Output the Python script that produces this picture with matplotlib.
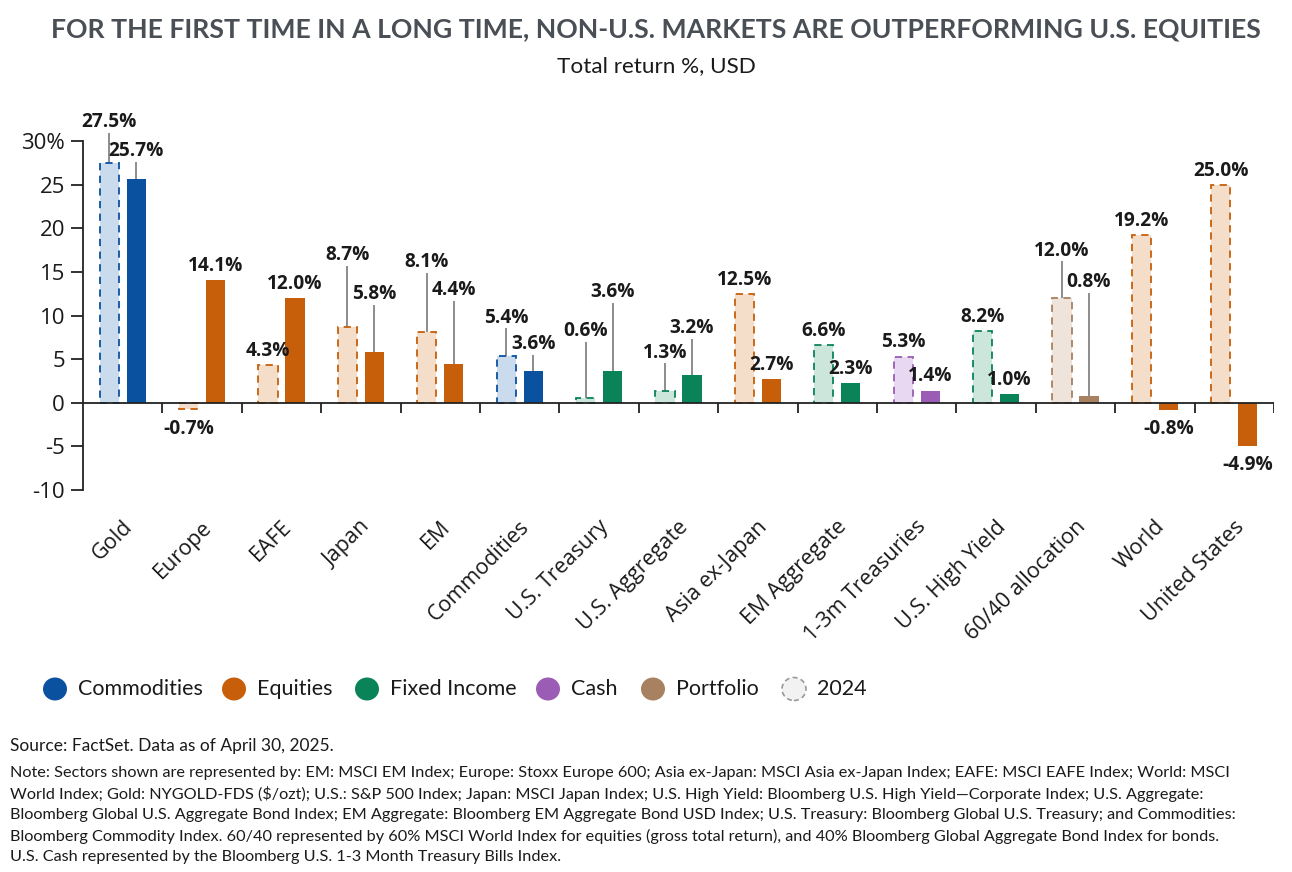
import matplotlib
matplotlib.use("Agg")
import matplotlib.pyplot as plt
from matplotlib import font_manager
from matplotlib.patches import Ellipse
import numpy as np

# data
categories = ["Gold", "Europe", "EAFE", "Japan", "EM", "Commodities", "U.S. Treasury",
              "U.S. Aggregate", "Asia ex-Japan", "EM Aggregate", "1-3m Treasuries",
              "U.S. High Yield", "60/40 allocation", "World", "United States"]
asset_class = ["Commodities", "Equities", "Equities", "Equities", "Equities", "Commodities",
               "Fixed Income", "Fixed Income", "Equities", "Fixed Income", "Cash",
               "Fixed Income", "Portfolio", "Equities", "Equities"]
ret_2024 = [27.5, -0.7, 4.3, 8.7, 8.1, 5.4, 0.6, 1.3, 12.5, 6.6, 5.3, 8.2, 12.0, 19.2, 25.0]
ret_2025 = [25.7, 14.1, 12.0, 5.8, 4.4, 3.6, 3.6, 3.2, 2.7, 2.3, 1.4, 1.0, 0.8, -0.8, -4.9]
legend_names = ["Commodities", "Equities", "Fixed Income", "Cash", "Portfolio", "2024"]
ytick_vals = [-10, -5, 0, 5, 10, 15, 20, 25, 30]
ytick_labels = ["-10", "-5", "0", "5", "10", "15", "20", "25", "30%"]

# label heights for the ones lifted on a leader line (None = label sits on the bar)
lift_2024 = [31.0, None, None, 15.8, 15.0, 8.6, 7.1, 4.6, None, None, None, None, 16.3, None, None]
lift_2025 = [27.7, None, None, 11.3, 11.8, 5.6, 11.5, 7.4, None, None, None, None, 12.7, None, None]

dark = {"Commodities": "#0A52A0", "Equities": "#C75F0A", "Fixed Income": "#0A8358",
        "Cash": "#9A5CB4", "Portfolio": "#A88161"}
light = {"Commodities": "#CBDBEE", "Equities": "#F4DDC9", "Fixed Income": "#CCE6DB",
         "Cash": "#E9D8F2", "Portfolio": "#EEE4DC"}


def pick(names):
    for n in names:
        try:
            font_manager.findfont(n, fallback_to_default=False)
            return n
        except Exception:
            pass
    return "DejaVu Sans"


narrow = pick(["Lato", "Roboto", "Liberation Sans"])
body = pick(["Open Sans", "Noto Sans", "DejaVu Sans"])
plt.rcParams["font.family"] = [body, "DejaVu Sans"]

W, H = 1292, 872
fig = plt.figure(figsize=(W / 100, H / 100), dpi=100)
renderer = fig.canvas.get_renderer()


def fit_width(t, target):
    # shrink/grow a text so its width matches the reference
    w = t.get_window_extent(renderer).width
    t.set_fontsize(t.get_fontsize() * target / w)


ax = fig.add_axes([83 / W, (H - 490) / H, (1274 - 83) / W, (490 - 123.6) / H])

x = np.arange(len(categories))
off, bw = 0.17, 0.24

for i in x:
    c = asset_class[i]
    ax.bar(i - off, ret_2024[i], bw, color=light[c], edgecolor=dark[c],
           linestyle=(0, (4, 3)), linewidth=1.3, zorder=2)
    ax.bar(i + off, ret_2025[i], bw, color=dark[c], linewidth=0, zorder=2)

# value labels
for i in x:
    for xx, v, lift in ((i - off, ret_2024[i], lift_2024[i]), (i + off, ret_2025[i], lift_2025[i])):
        txt = f"{v:.1f}%"
        kw = dict(fontsize=13.8, fontweight="bold", color="#1A1A1A", ha="center")
        if lift is not None:
            ax.plot([xx, xx], [v, lift - 0.2], color="#8C8C8C", lw=1.4, zorder=1)
            ax.text(xx, lift, txt, va="bottom", **kw)
        elif v >= 0:
            ax.annotate(txt, (xx, v), xytext=(0, 3), textcoords="offset points", va="bottom", **kw)
        else:
            ax.annotate(txt, (xx, v), xytext=(0, -7), textcoords="offset points", va="top", **kw)

ax.set_xlim(-0.5, len(categories) - 0.5)
ax.set_ylim(-10, 32)

# zero line with group separators
ax.axhline(0, color="#222222", lw=1.3, zorder=3)
ax.vlines(np.arange(0.5, len(categories), 1), -1.15, 0, color="#222222", lw=1.3, zorder=3)

for s in ["top", "right", "bottom"]:
    ax.spines[s].set_visible(False)
ax.spines["left"].set_bounds(-10, 30)
ax.spines["left"].set_color("#222222")
ax.spines["left"].set_linewidth(1.3)

ax.set_yticks(ytick_vals)
ax.set_yticklabels(ytick_labels, fontsize=16, color="#1A1A1A")
ax.tick_params(axis="y", length=9, width=1.3, color="#222222", pad=4)

ax.set_xticks(x - 0.01)
ax.set_xticklabels(categories, rotation=45, ha="right", va="top", rotation_mode="anchor",
                   fontsize=15.5, color="#1A1A1A")
ax.tick_params(axis="x", length=0, pad=19)

# titles
title = fig.text(0.508, 1 - 29 / H,
                 "FOR THE FIRST TIME IN A LONG TIME, NON-U.S. MARKETS ARE OUTPERFORMING U.S. EQUITIES",
                 ha="center", va="center", fontsize=20, fontweight="bold", color="#4A4F55", family=narrow)
fit_width(title, 1210)
sub = fig.text(0.508, 1 - 66 / H, "Total return %, USD", ha="center", va="center", fontsize=17,
               color="#1A1A1A", family=narrow)
fit_width(sub, 198)

# legend drawn by hand so the 2024 marker can have a dashed edge
leg_x = [55, 234, 367, 548, 653, 794]
leg_y = 1 - 689 / H
for name, lx in zip(legend_names, leg_x):
    if name == "2024":
        e = Ellipse((lx / W, leg_y), 24 / W, 23 / H, transform=fig.transFigure,
                    facecolor="#F2F2F2", edgecolor="#9A9A9A", linestyle=(0, (3, 2)), lw=1.2)
    else:
        e = Ellipse((lx / W, leg_y), 24 / W, 23 / H, transform=fig.transFigure,
                    facecolor=dark[name], edgecolor="none")
    fig.add_artist(e)
    fig.text((lx + 23) / W, leg_y, name, ha="left", va="center", fontsize=15.5,
             color="#1A1A1A", family=narrow)

# footnotes
fig.text(10 / W, 1 - 746 / H, "Source: FactSet. Data as of April 30, 2025.", ha="left", va="center",
         fontsize=12.5, color="#1A1A1A", family=narrow)
note_lines = [
    "Note: Sectors shown are represented by: EM: MSCI EM Index; Europe: Stoxx Europe 600; Asia ex-Japan: MSCI Asia ex-Japan Index; EAFE: MSCI EAFE Index; World: MSCI",
    "World Index; Gold: NYGOLD-FDS (\\$/ozt); U.S.: S&P 500 Index; Japan: MSCI Japan Index; U.S. High Yield: Bloomberg U.S. High Yield\u2014Corporate Index; U.S. Aggregate:",
    "Bloomberg Global U.S. Aggregate Bond Index; EM Aggregate: Bloomberg EM Aggregate Bond USD Index; U.S. Treasury: Bloomberg Global U.S. Treasury; and Commodities:",
    "Bloomberg Commodity Index. 60/40 represented by 60% MSCI World Index for equities (gross total return), and 40% Bloomberg Global Aggregate Bond Index for bonds.",
    "U.S. Cash represented by the Bloomberg U.S. 1-3 Month Treasury Bills Index.",
]
notes = []
for k, line in enumerate(note_lines):
    notes.append(fig.text(10 / W, 1 - (773 + 21 * k) / H, line, ha="left", va="center",
                          fontsize=12.5, color="#1A1A1A", family=narrow))
fit_width(notes[0], 1220)
for t in notes[1:]:
    t.set_fontsize(notes[0].get_fontsize())

fig.savefig("out.png", dpi=100)
